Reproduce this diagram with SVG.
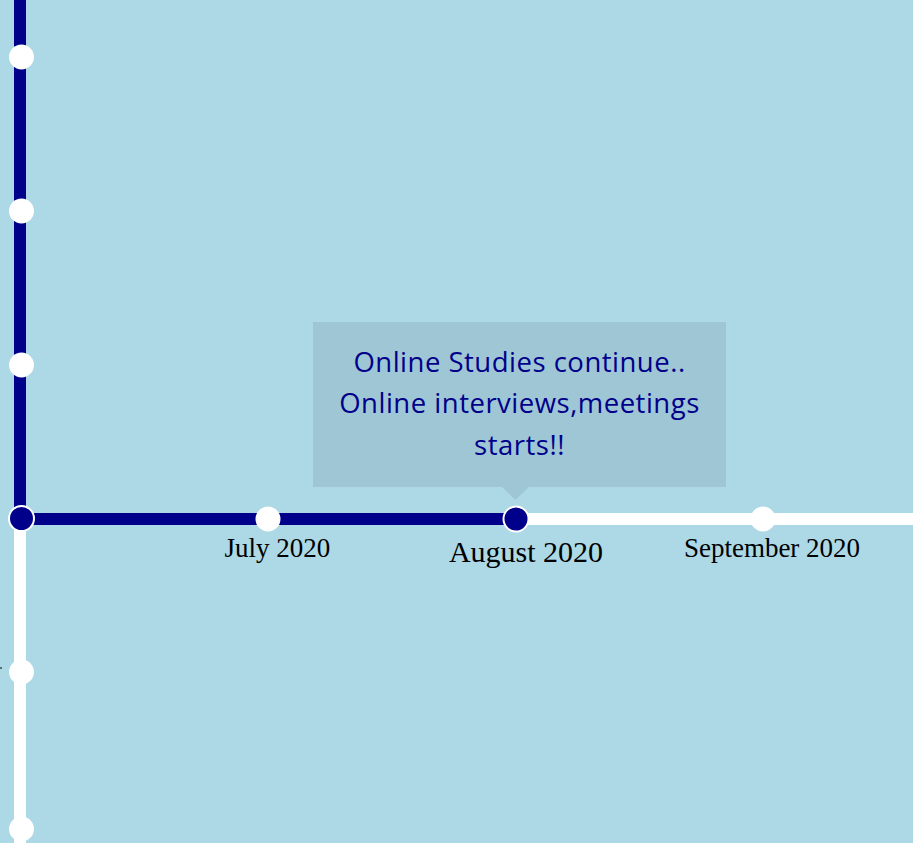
<svg xmlns="http://www.w3.org/2000/svg" width="913" height="843" viewBox="0 0 913 843">
<style>
.done{stroke:#00008b;stroke-width:12;fill:none}
.todo{stroke:#fff;stroke-width:12;fill:none}
.dot{fill:#fff}
.cur{fill:#00008b;stroke:#fff;stroke-width:2}
.lbl{font-family:"Liberation Serif",serif;fill:#000;text-anchor:middle}
.tip{font-family:"Open Sans","Noto Sans",sans-serif;font-size:27.5px;letter-spacing:0.5px;fill:#00008b;text-anchor:middle}
</style>
<rect width="913" height="843" fill="#add8e6"/>
<g id="connectors">
<line class="done" x1="20" y1="0" x2="20" y2="519"/>
<line class="todo" x1="20" y1="519" x2="20" y2="843"/>
<line class="done" x1="21" y1="519" x2="516" y2="519"/>
<line class="todo" x1="516" y1="519" x2="913" y2="519"/>
</g>
<g id="v1"><circle class="dot" cx="21.5" cy="57" r="12.5"/></g>
<g id="v2"><circle class="dot" cx="21.5" cy="211" r="12.5"/></g>
<g id="v3"><circle class="dot" cx="21.5" cy="365" r="12.5"/></g>
<g id="junction"><circle class="cur" cx="21.5" cy="518.5" r="12.5"/></g>
<g id="v5"><circle class="dot" cx="21.5" cy="672" r="12.5"/><line x1="0" y1="668" x2="2" y2="668" stroke="#000" stroke-width="1"/></g>
<g id="v6"><circle class="dot" cx="21.5" cy="829" r="12.5"/></g>
<g id="july"><circle class="dot" cx="268" cy="519" r="12.5"/><text class="lbl" x="277.5" y="557" font-size="27">July 2020</text></g>
<g id="august"><circle class="cur" cx="516" cy="519" r="12.5"/><text class="lbl" x="526" y="562" font-size="30">August 2020</text></g>
<g id="september"><circle class="dot" cx="763" cy="519" r="12.5"/><text class="lbl" x="772" y="557" font-size="27">September 2020</text></g>
<g id="tooltip">
<rect x="313" y="322" width="413" height="165" fill="#9fc6d4"/>
<polygon points="502,487 529,487 515.5,500" fill="#9fc6d4"/>
<text class="tip" x="519.5" y="372">Online Studies continue..</text>
<text class="tip" x="519.5" y="413">Online interviews,meetings</text>
<text class="tip" x="519.5" y="455">starts!!</text>
</g>
</svg>
